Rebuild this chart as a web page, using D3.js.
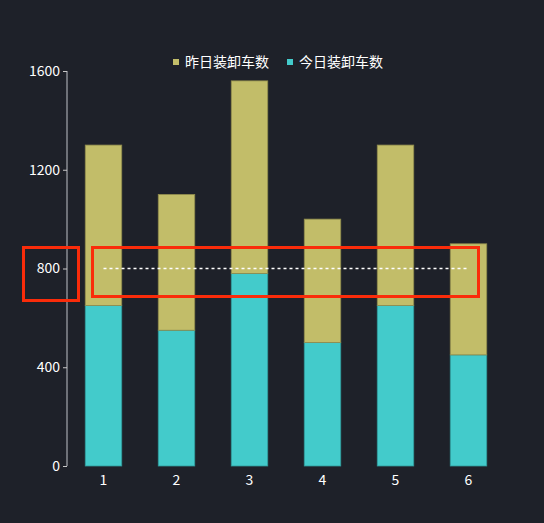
<!DOCTYPE html>
<html>

<head>
    <script src="https://d3js.org/d3.v7.min.js"></script>
    <style>
        body {
            margin: 0;
            background-color: #1e2129;
        }
        text {
            font-family: "Noto Sans CJK SC", "Noto Sans", sans-serif;
        }
    </style>
</head>

<body>
    <svg id="canvas" width="544" height="523"></svg>
    <script>
        const svg = d3.select('#canvas');
        const WIDTH = 544;
        const HEIGHT = 523;

        //chart data
        const categories = ['1', '2', '3', '4', '5', '6'];
        const todayValues = [650, 550, 780, 500, 650, 450];
        const yesterdayValues = [650, 550, 780, 500, 650, 450];
        const seriesNames = ['昨日装卸车数', '今日装卸车数'];
        const yTicks = [0, 400, 800, 1200, 1600];
        const markValue = 800;

        const OLIVE = '#c2bd69';
        const TEAL = '#43cbcb';

        svg.append('rect')
            .attr('width', WIDTH)
            .attr('height', HEIGHT)
            .attr('fill', '#1e2129');

        const x = d3.scaleBand()
            .domain(categories)
            .range([67, 505])
            .paddingInner(0.5)
            .paddingOuter(0.25);

        const y = d3.scaleLinear()
            .domain([0, 1600])
            .range([466, 71]);

        //y axis
        const yAxis = svg.append('g')
            .attr('transform', 'translate(67,0)')
            .call(d3.axisLeft(y).tickValues(yTicks).tickFormat(d3.format('d')).tickSize(4).tickPadding(3));
        yAxis.select('.domain').attr('stroke', '#8a8d93').attr('stroke-width', 1.5)
            .attr('d', 'M0,' + y(0) + 'V' + y(1600));
        yAxis.selectAll('.tick line').attr('stroke', '#c8c8c8');
        yAxis.selectAll('.tick text')
            .attr('fill', '#ffffff')
            .attr('font-size', 14);

        //x labels
        svg.append('g')
            .selectAll('text')
            .data(categories)
            .join('text')
            .attr('x', d => x(d) + x.bandwidth() / 2)
            .attr('y', 485)
            .attr('text-anchor', 'middle')
            .attr('fill', '#ffffff')
            .attr('font-size', 14)
            .text(d => d);

        //stacked bars: today at bottom, yesterday on top
        const rows = categories.map((c, i) => ({ cat: c, today: todayValues[i], yesterday: yesterdayValues[i] }));

        svg.append('g')
            .selectAll('rect')
            .data(rows)
            .join('rect')
            .attr('x', d => x(d.cat))
            .attr('width', x.bandwidth())
            .attr('y', d => y(d.today))
            .attr('height', d => y(0) - y(d.today))
            .attr('fill', TEAL)
            .attr('stroke', '#2f9a9a')
            .attr('stroke-width', 0.8);

        svg.append('g')
            .selectAll('rect')
            .data(rows)
            .join('rect')
            .attr('x', d => x(d.cat))
            .attr('width', x.bandwidth())
            .attr('y', d => y(d.today + d.yesterday))
            .attr('height', d => y(d.today) - y(d.today + d.yesterday))
            .attr('fill', OLIVE)
            .attr('stroke', '#8f8b4c')
            .attr('stroke-width', 0.8);

        //dotted mark line at 800
        svg.append('line')
            .attr('x1', x(categories[0]) + x.bandwidth() / 2)
            .attr('x2', x(categories[categories.length - 1]) + x.bandwidth() / 2)
            .attr('y1', y(markValue))
            .attr('y2', y(markValue))
            .attr('stroke', '#ffffff')
            .attr('stroke-width', 1.5)
            .attr('stroke-dasharray', '3,3');

        //red highlight boxes
        svg.append('rect')
            .attr('x', 23.5).attr('y', 247.5)
            .attr('width', 55).attr('height', 53)
            .attr('fill', 'none')
            .attr('stroke', '#fa2c0a')
            .attr('stroke-width', 3);
        svg.append('rect')
            .attr('x', 92.5).attr('y', 247.5)
            .attr('width', 386).attr('height', 49)
            .attr('fill', 'none')
            .attr('stroke', '#fa2c0a')
            .attr('stroke-width', 3);

        //legend
        const legendColors = [OLIVE, TEAL];
        const legendX = [173, 287];
        const legend = svg.append('g')
            .selectAll('g')
            .data(seriesNames)
            .join('g')
            .attr('transform', (d, i) => 'translate(' + legendX[i] + ',62)');
        legend.append('rect')
            .attr('x', 0).attr('y', -3)
            .attr('width', 6).attr('height', 6)
            .attr('fill', (d, i) => legendColors[i]);
        legend.append('text')
            .attr('x', 12)
            .attr('y', 5)
            .attr('fill', '#ffffff')
            .attr('font-size', 14)
            .text(d => d);
    </script>
</body>

</html>
